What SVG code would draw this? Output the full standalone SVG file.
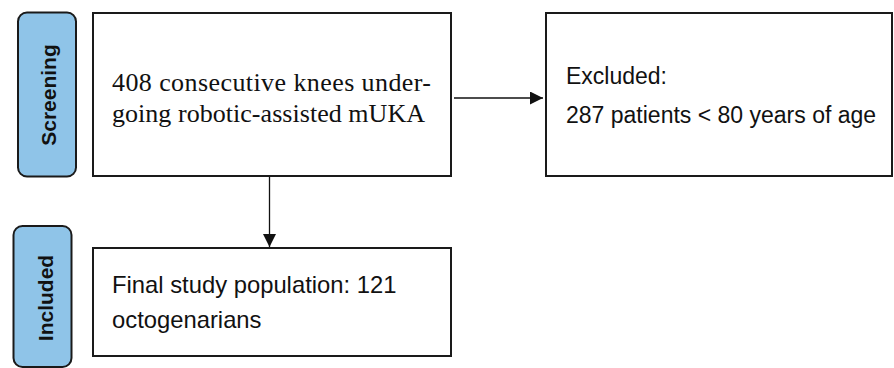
<svg xmlns="http://www.w3.org/2000/svg" width="894" height="368" viewBox="0 0 894 368">
  <style>
    .box { fill: #ffffff; stroke: #1a1a1a; stroke-width: 2; }
    .pill { fill: #8FC4E8; stroke: #1a1a1a; stroke-width: 2; }
    .serif { font-family: "Liberation Serif", "Times New Roman", serif; font-size: 26px; fill: #111; }
    .sans { font-family: "Liberation Sans", Arial, sans-serif; font-size: 23px; fill: #111; }
    .sans2 { font-family: "Liberation Sans", Arial, sans-serif; font-size: 23.8px; fill: #111; }
    .stage { font-family: "Liberation Sans", Arial, sans-serif; font-size: 21px; font-weight: bold; fill: #111; text-anchor: middle; }
    .conn { stroke: #111; stroke-width: 1.3; fill: none; }
  </style>
  <defs>
    <marker id="arrow" viewBox="0 0 10 10" refX="10" refY="5" markerWidth="14" markerHeight="13" markerUnits="userSpaceOnUse" orient="auto">
      <path d="M0,0 L10,5 L0,10 Z" fill="#111"/>
    </marker>
  </defs>

  <g id="stage-screening">
    <rect class="pill" x="18" y="12.5" width="58" height="164" rx="9" ry="9"/>
    <text class="stage" transform="translate(55.5,95) rotate(-90)">Screening</text>
  </g>

  <g id="stage-included">
    <rect class="pill" x="13.5" y="226" width="58" height="141" rx="9" ry="9"/>
    <text class="stage" transform="translate(52.5,298) rotate(-90)">Included</text>
  </g>

  <g id="node-screened">
    <rect class="box" x="93" y="13" width="358" height="163"/>
    <text class="serif" x="112" y="91" textLength="319" lengthAdjust="spacing">408 consecutive knees under-</text>
    <text class="serif" x="112" y="122" textLength="313" lengthAdjust="spacing">going robotic-assisted mUKA</text>
  </g>

  <g id="node-excluded">
    <rect class="box" x="546" y="13" width="346" height="163"/>
    <text class="sans" x="566" y="84">Excluded:</text>
    <text class="sans" x="566" y="123">287 patients &lt; 80 years of age</text>
  </g>

  <g id="node-final">
    <rect class="box" x="93" y="248" width="358" height="108"/>
    <text class="sans2" x="112" y="293">Final study population: 121</text>
    <text class="sans2" x="112" y="328">octogenarians</text>
  </g>

  <g id="connectors">
    <line class="conn" x1="454" y1="98" x2="543" y2="98" marker-end="url(#arrow)"/>
    <line class="conn" x1="269.5" y1="177" x2="269.5" y2="247" marker-end="url(#arrow)"/>
  </g>
</svg>
